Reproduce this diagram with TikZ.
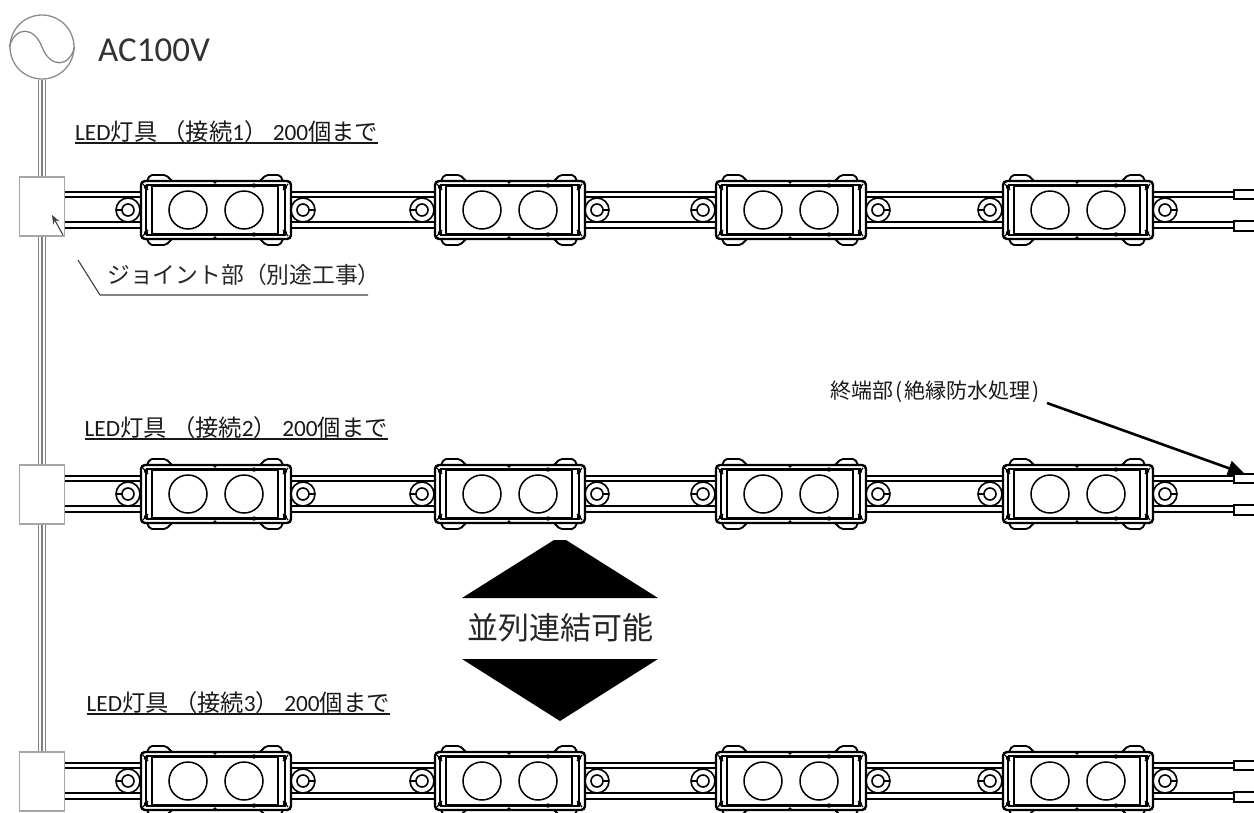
\documentclass[tikz,border=0pt]{standalone}
\usepackage{fontspec}
\setmainfont{Carlito}
\newfontfamily\jp{Noto Sans CJK JP}
\usetikzlibrary{arrows.meta}

\tikzset{
	railline/.style={line width=2.6pt, black},
	unitline/.style={line width=1.8pt, black},
	jointbox/.style={draw=black!35, line width=1.5pt, fill=white, minimum width=45pt, minimum height=59pt, inner sep=0pt},
	wire/.style={draw=black!50, line width=1.5pt},
	leader/.style={draw=black!75, line width=1.1pt},
	ledlabel/.style={anchor=base west, inner sep=0pt, font=\fontsize{23.3}{25}\selectfont, text=black!90},
	% one lamp: two screw eyes, case, lugs and the two lenses
	pics/ledunit/.style={code={
		\foreach \s/\c in {-1/-88,1/87} {
			\draw[line width=1.6pt, fill=white] (\c,0) circle (12);
			\draw[line width=1.6pt] (\c,0) circle (6);
			\draw[line width=2.4pt] (\c+\s*6,0) -- (\c+\s*12,0);
		}
		\foreach \s in {-1,1} {
			\draw[unitline, fill=white, rounded corners=2pt] (-69,\s*29) -- (-66,\s*35) -- (-50,\s*35) -- (-44,\s*29);
			\draw[unitline, fill=white, rounded corners=2pt] (44,\s*29) -- (50,\s*35) -- (64,\s*35) -- (67,\s*29);
		}
		\draw[line width=2.4pt, fill=white, rounded corners=4pt] (-75,-29) rectangle (75,29);
		\draw[line width=2.4pt] (-64,-24.5) rectangle (62,24.5);
		\draw[unitline] (-70,-25) -- (70,-25) (-70,25) -- (70,25);
		\draw[unitline] (-70,-25) -- (-70,25) (69,-25) -- (69,25);
		\foreach \sx/\c in {-1/-68,1/67} \foreach \sy in {-1,1} {
			\draw[line width=1.2pt] (\c,\sy*20) -- (\c+\sx*5,\sy*26);
			\fill (\c+\sx*2,\sy*23) circle (2.2);
		}
		\foreach \s in {-1,1} {
			\fill (38,\s*24.5) circle (2.2);
			\fill (-1,\s*28) circle (1.8);
		}
		\draw[line width=1.5pt] (-28,0) circle (19) (28,0) circle (19);
	}},
	% rails with the four lamps and the insulated ends
	pics/ledrow/.style={code={
		\foreach \y in {-18,-13,12,18}
			\draw[railline] (60,\y) -- (1233,\y);
		\foreach \c in {216,510,791,1078}
			\pic at (\c,0) {ledunit};
		\foreach \a/\b in {-20/-11,11/21}
			\draw[line width=2.4pt, fill=white] (1270,\a) -- (1234,\a) -- (1234,\b) -- (1270,\b);
	}},
}

\begin{document}
\begin{tikzpicture}[x=1pt, y=-1pt]
	\useasboundingbox (0,0) rectangle (1254,812);
	\clip (0,0) rectangle (1254,812);

	% the three rows
	\pic at (0,210) {ledrow};
	\pic at (0,494) {ledrow};
	\pic at (0,781) {ledrow};

	% supply and joints
	\node[circle, draw=black!45, line width=1.3pt, minimum size=64pt, inner sep=0pt] (acsrc) at (42,47) {};
	\draw[black!50, line width=1.2pt] (acsrc.west) .. controls (15,26) and (34,26) .. (acsrc.center) .. controls (50,68) and (69,68) .. (acsrc.east);
	\node[ledlabel, font=\fontsize{35}{36}\selectfont, text=black!80] (aclabel) at (98,61) {AC100V};

	\node[jointbox] (jointA) at (42,206.5) {};
	\node[jointbox] (jointB) at (42,494.5) {};
	\node[jointbox] (jointC) at (42,781.5) {};

	\foreach \dx in {-3.5,0,3.5} {
		\draw[wire] ([xshift=\dx]acsrc.south) -- ([xshift=\dx]jointA.north);
		\draw[wire] ([xshift=\dx]jointA.south) -- ([xshift=\dx]jointB.north);
		\draw[wire] ([xshift=\dx]jointB.south) -- ([xshift=\dx]jointC.north);
	}

	% arrow in the first joint
	\coordinate (jointtail) at (63,235);
	\coordinate (jointtip) at (52,215);
	\draw[leader, -{Stealth[length=9pt, width=7pt]}] (jointtail) -- (jointtip);

	% row labels
	\node[ledlabel] (ledA) at (75,140.5) {LED{\jp 灯具}\ {\jp （接続}1{\jp ）}\ 200{\jp 個まで}};
	\node[ledlabel] (ledB) at (84.5,436.5) {LED{\jp 灯具}\ {\jp （接続}2{\jp ）}\ 200{\jp 個まで}};
	\node[ledlabel] (ledC) at (86.5,711.5) {LED{\jp 灯具}\ {\jp （接続}3{\jp ）}\ 200{\jp 個まで}};
	\foreach \n in {ledA,ledB,ledC}
		\draw[black!90, line width=1.2pt] ([yshift=-2.5]\n.base west) -- ([yshift=-2.5]\n.base east);

	% joint note
	\node[ledlabel, font=\fontsize{22.8}{24}\selectfont, text=black!85] (jointnote) at (107,283) {\jp ジョイント部（別途工事）};
	\coordinate (notetop) at (78,260);
	\coordinate (notebend) at (100,295);
	\coordinate (noteend) at (368,295);
	\draw[leader] (notetop) -- (notebend) -- (noteend);

	% end note
	\node[ledlabel, font=\jp\fontsize{21}{23}\selectfont, text=black!90] (endnote) at (830,398) {終端部\kern2pt(\kern2pt絶縁防水処理\kern2pt)\kern3pt};
	\coordinate (endtail) at (1047,403);
	\coordinate (endtip) at (1245,474);
	\draw[line width=2.6pt, -{Triangle[length=17pt, width=15pt]}] (endtail) -- (endtip);

	% parallel mark
	\fill (462,598) -- (554,540) -- (566,540) -- (658,598) -- cycle;
	\fill (462,659) -- (658,659) -- (560,721) -- cycle;
	\node[inner sep=0pt, font=\jp\fontsize{31}{33}\selectfont, text=black!85] (parallel) at (560,628) {並列連結可能};
\end{tikzpicture}
\end{document}
